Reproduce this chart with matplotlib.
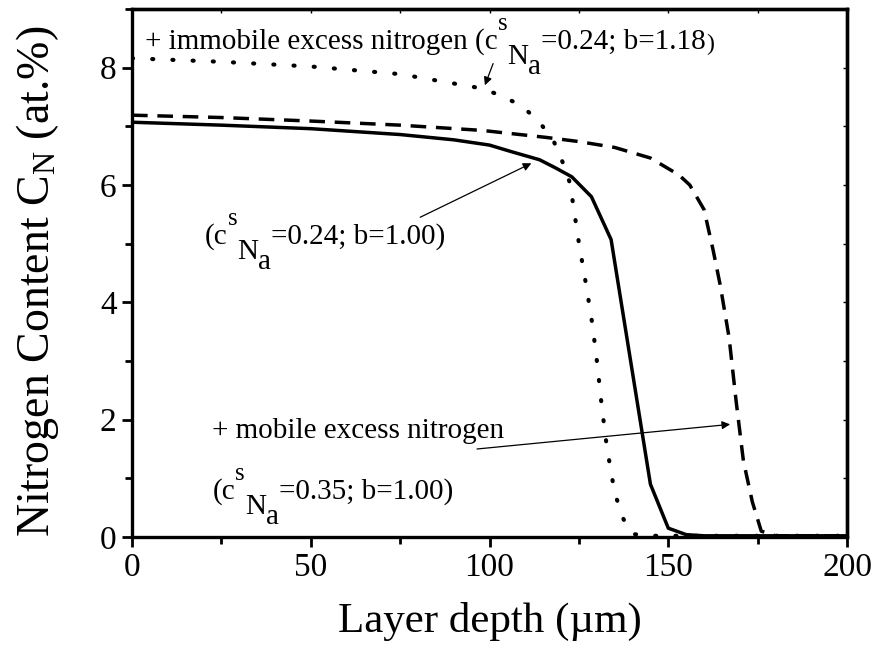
import numpy as np
import matplotlib.pyplot as plt
from matplotlib.ticker import MultipleLocator

plt.rcParams['font.family'] = ['Liberation Serif', 'DejaVu Serif']
plt.rcParams['mathtext.fontset'] = 'custom'
plt.rcParams['mathtext.rm'] = 'Liberation Serif'
plt.rcParams['mathtext.it'] = 'Liberation Serif:italic'

# solid: c_Na = 0.24, b = 1.00
x_solid = [0, 25, 50, 75, 90, 100, 106, 114, 118.5, 123, 128.5, 134, 145, 150, 155, 160, 200]
y_solid = [7.07, 7.02, 6.96, 6.86, 6.77, 6.68, 6.57, 6.43, 6.29, 6.14, 5.80, 5.07, 0.90, 0.15, 0.04, 0.02, 0.02]

# dashed: mobile excess nitrogen, c_Na = 0.35, b = 1.00
x_dash = [0, 25, 50, 75, 98, 116, 125, 135, 145, 153, 156, 160, 162.5, 164.5, 167, 169, 171, 173.5, 176, 180, 200]
y_dash = [7.19, 7.15, 7.09, 7.02, 6.93, 6.81, 6.74, 6.64, 6.46, 6.17, 6.00, 5.58, 4.90, 4.30, 3.40, 2.30, 1.30, 0.60, 0.10, 0.02, 0.02]

# dotted: immobile excess nitrogen, c_Na = 0.24, b = 1.18
x_dot = [0, 25, 50, 75, 97.5, 103, 109, 114, 118, 120.5, 122.5, 125, 127, 128.8, 130.2, 131.4, 132.8, 135, 137.5, 140, 145, 200]
y_dot = [8.16, 8.10, 8.02, 7.89, 7.65, 7.53, 7.35, 7.07, 6.74, 6.38, 6.03, 5.01, 4.30, 3.61, 2.91, 2.22, 1.54, 0.75, 0.30, 0.05, 0.02, 0.02]

fig = plt.figure(figsize=(8.72, 6.52), dpi=100)
ax = fig.add_axes([0.1514, 0.1764, 0.820, 0.8098])

ax.plot(x_solid, y_solid, color='k', lw=2.5)
ax.plot(x_dash, y_dash, color='k', lw=2.5, linestyle=(0, (4.5, 2.8)))
ax.plot(x_dot, y_dot, color='k', lw=3.0, linestyle=(0, (0.25, 4.6)), dash_capstyle='round')

ax.set_xlim(0, 200)
ax.set_ylim(0, 9)
ax.xaxis.set_major_locator(MultipleLocator(50))
ax.xaxis.set_minor_locator(MultipleLocator(25))
ax.yaxis.set_major_locator(MultipleLocator(2))
ax.yaxis.set_minor_locator(MultipleLocator(1))
ax.tick_params(which='major', direction='out', length=7, width=2, labelsize=24, pad=4)
ax.tick_params(which='minor', direction='out', length=5, width=2)
for s in ax.spines.values():
    s.set_linewidth(2.4)

top = ax.secondary_xaxis('top')
top.set_xticks(np.arange(0, 201, 25))
top.tick_params(direction='in', length=3, width=1, labeltop=False)
right = ax.secondary_yaxis('right')
right.set_yticks(np.arange(0, 10, 1))
right.tick_params(direction='in', length=3, width=1, labelright=False)
top.spines['top'].set_linewidth(2.4)
right.spines['right'].set_linewidth(2.4)

ax.set_xlabel('Layer depth (\u00b5m)', fontsize=31, labelpad=14)
ax.set_ylabel(r'Nitrogen Content C$_{\rm N}$ (at.%)', fontsize=33)
ax.yaxis.set_label_coords(-0.10, 0.485)


def rich(x, y, pieces):
    first = ax.text(x, y, pieces[0][0], fontsize=pieces[0][2], va='bottom')
    prev = first
    for s, dy, size in pieces[1:]:
        prev = ax.annotate(s, xy=(1, 0), xycoords=(prev, first), xytext=(0, dy),
                           textcoords='offset points', fontsize=size, va='bottom')
    return first


fs = 21
rich(3.6, 8.22, [('+ immobile excess nitrogen (c', 0, fs), ('s', 14, 18), ('N', -11, fs),
                 ('a', -18, fs), ('=0.24; b=1.18', 0, fs), (')', 0, 17)])
rich(20.4, 4.9, [('(c', 0, fs), ('s', 14, 18), ('N', -11, fs),
                 ('a', -18, fs), ('=0.24; b=1.00)', 0, fs)])
ax.text(22.5, 1.68, '+ mobile excess nitrogen', fontsize=fs)
rich(22.5, 0.55, [('(c', 0, fs), ('s', 14, 18), ('N', -11, fs),
                  ('a', -18, fs), ('=0.35; b=1.00)', 0, fs)])

arrow = dict(arrowstyle='-|>', lw=0.9, color='k', mutation_scale=12, shrinkA=0, shrinkB=0)
ax.annotate('', xy=(98.7, 7.7), xytext=(101, 8.07), arrowprops=arrow)
ax.annotate('', xy=(111.7, 6.37), xytext=(80.6, 5.45), arrowprops=arrow)
ax.annotate('', xy=(167.3, 1.92), xytext=(96.5, 1.5), arrowprops=arrow)

fig.savefig('out.png', dpi=100)
